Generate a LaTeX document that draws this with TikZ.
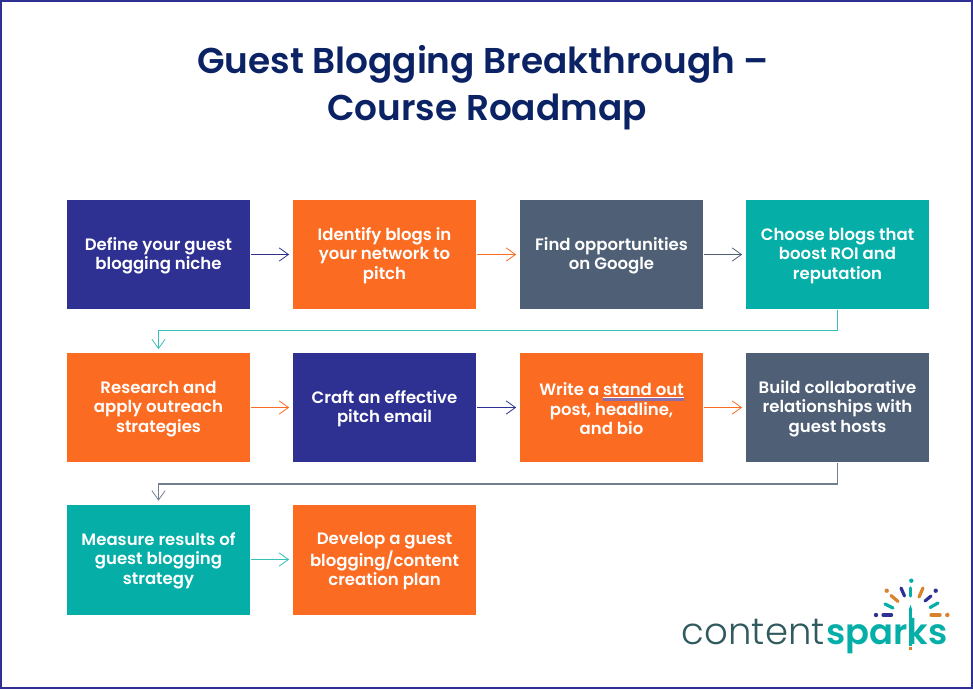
\documentclass[tikz,border=0pt]{standalone}
\usepackage{fontspec}
\setmainfont{Poppins}[BoldFont={Poppins SemiBold}]
\newfontfamily\logolight{Poppins Light}
\newfontfamily\titlefont{Poppins SemiBold}
\usetikzlibrary{arrows.meta}
\definecolor{navy}{HTML}{2E3192}
\definecolor{titleblue}{HTML}{0B2265}
\definecolor{orange}{HTML}{FB6B21}
\definecolor{slate}{HTML}{4F5F75}
\definecolor{teal}{HTML}{05AFA8}
\definecolor{logoink}{HTML}{2F5A5E}
\definecolor{logoorange}{HTML}{D9822B}
\definecolor{spell}{HTML}{8A6FA8}
\newcommand{\spellcheck}[1]{\setbox0=\hbox{#1}\rlap{\color{spell}\rule[-4pt]{\wd0}{2.6pt}}\rlap{\color{white}\rule[-1.5pt]{\wd0}{0.6pt}}\box0}
\newcommand{\topgap}{\rule{0pt}{11.5pt}}
\tikzset{
  stepbox/.style={minimum width=137.25pt,minimum height=81.75pt,align=center,text=white,
    font=\fontsize{12.4}{14.6}\selectfont\bfseries,inner sep=0pt,outer sep=0.7pt},
  flow/.style={line width=0.8pt,shorten >=2.2pt,-{Straight Barb[length=7pt,width=10pt,line width=0.6pt]}},
  ray/.style={line width=2.4pt,line cap=round}
}
\begin{document}
\begin{tikzpicture}[x=0.75pt,y=-0.75pt]
  \useasboundingbox (0,0) rectangle (973,689);
  \draw [navy,line width=1.5pt] (1,1) rectangle (972,688);
  \node (title) [text=titleblue,align=center,font=\fontsize{26.9}{35.2}\selectfont\titlefont] at (487,88)
    {Guest Blogging Breakthrough –\hspace*{6pt}\\Course Roadmap};
  % first row
  \node (niche) [stepbox,fill=navy] at (158.5,254.5) {\topgap Define your guest\\blogging niche};
  \node (network) [stepbox,fill=orange] at (384.5,254.5) {\topgap Identify blogs in\\your network to\\pitch};
  \node (google) [stepbox,fill=slate] at (611.5,254.5) {\topgap Find opportunities\\on Google};
  \node (choose) [stepbox,fill=teal] at (837.5,254.5) {\topgap Choose blogs that\\boost ROI and\\reputation};
  % second row
  \node (research) [stepbox,fill=orange] at (158.5,407.5) {\topgap Research and\\apply outreach\\strategies};
  \node (pitch) [stepbox,fill=navy] at (384.5,407.5) {\topgap Craft an effective\\pitch email};
  \node (post) [stepbox,fill=orange] at (611.5,407.5) {\topgap Write a \spellcheck{stand out}\\post, headline,\\and bio};
  \node (hosts) [stepbox,fill=slate] at (837.5,407.5) {\topgap Build collaborative\\relationships with\\guest hosts};
  % third row
  \node (measure) [stepbox,fill=teal,minimum height=82.5pt] at (158.5,559.5) {\topgap Measure results of\\guest blogging\\strategy};
  \node (plan) [stepbox,fill=orange,minimum height=82.5pt] at (384.5,559.5) {\topgap Develop a guest\\blogging/content\\creation plan};
  % connectors
  \draw [flow,navy] (niche) -- (network);
  \draw [flow,orange] (network) -- (google);
  \draw [flow,slate] (google) -- (choose);
  \draw [flow,teal!80] (choose.south) |- (500,330.5) -| (research.north);
  \draw [flow,orange] (research) -- (pitch);
  \draw [flow,navy] (pitch) -- (post);
  \draw [flow,orange] (post) -- (hosts);
  \draw [flow,slate!80] (hosts.south) |- (500,484) -| (measure.north);
  \draw [flow,teal!80] (measure) -- (plan);
  % logo
  \node (content) [anchor=base east,inner sep=0pt,text=logoink,font=\fontsize{27.8}{28}\selectfont\logolight] at (825,644) {content};
  \node (sparks) [anchor=base west,inner sep=0pt,text=teal,font=\fontsize{26.5}{28}\selectfont\bfseries] at (826,644) {sparks};
  \draw [teal,line width=2.8pt] (910.5,610) -- (910.5,646);
  \fill [teal] (908.6,610) -- (910.5,605) -- (912.4,610) -- cycle;
  \draw [logoorange,line width=2.8pt] (910.5,647) -- (910.5,649.5);
  \draw [ray,teal] (910.7,588) -- (910.7,596);
  \fill [teal] (911.3,580.7) circle (2.2);
  \draw [ray,logoorange] (891,595.5) -- (898,601.5);
  \fill [logoorange] (886.7,590.7) circle (2.2);
  \draw [ray,navy] (901,588) -- (904.5,596);
  \draw [ray,logoorange] (923,588) -- (919,597);
  \draw [ray,navy] (931,596) -- (925,601);
  \fill [navy] (935.7,590.7) circle (2.2);
  \draw [ray,teal] (885,604) -- (893,608);
  \draw [ray,teal] (938,603) -- (930,607.5);
  \draw [ray,navy] (883,615) -- (891.5,615);
  \fill [navy] (876,615) circle (2.2);
  \draw [ray,logoorange] (931,615) -- (940,615);
  \fill [logoorange] (947.3,615) circle (2.2);
\end{tikzpicture}
\end{document}
